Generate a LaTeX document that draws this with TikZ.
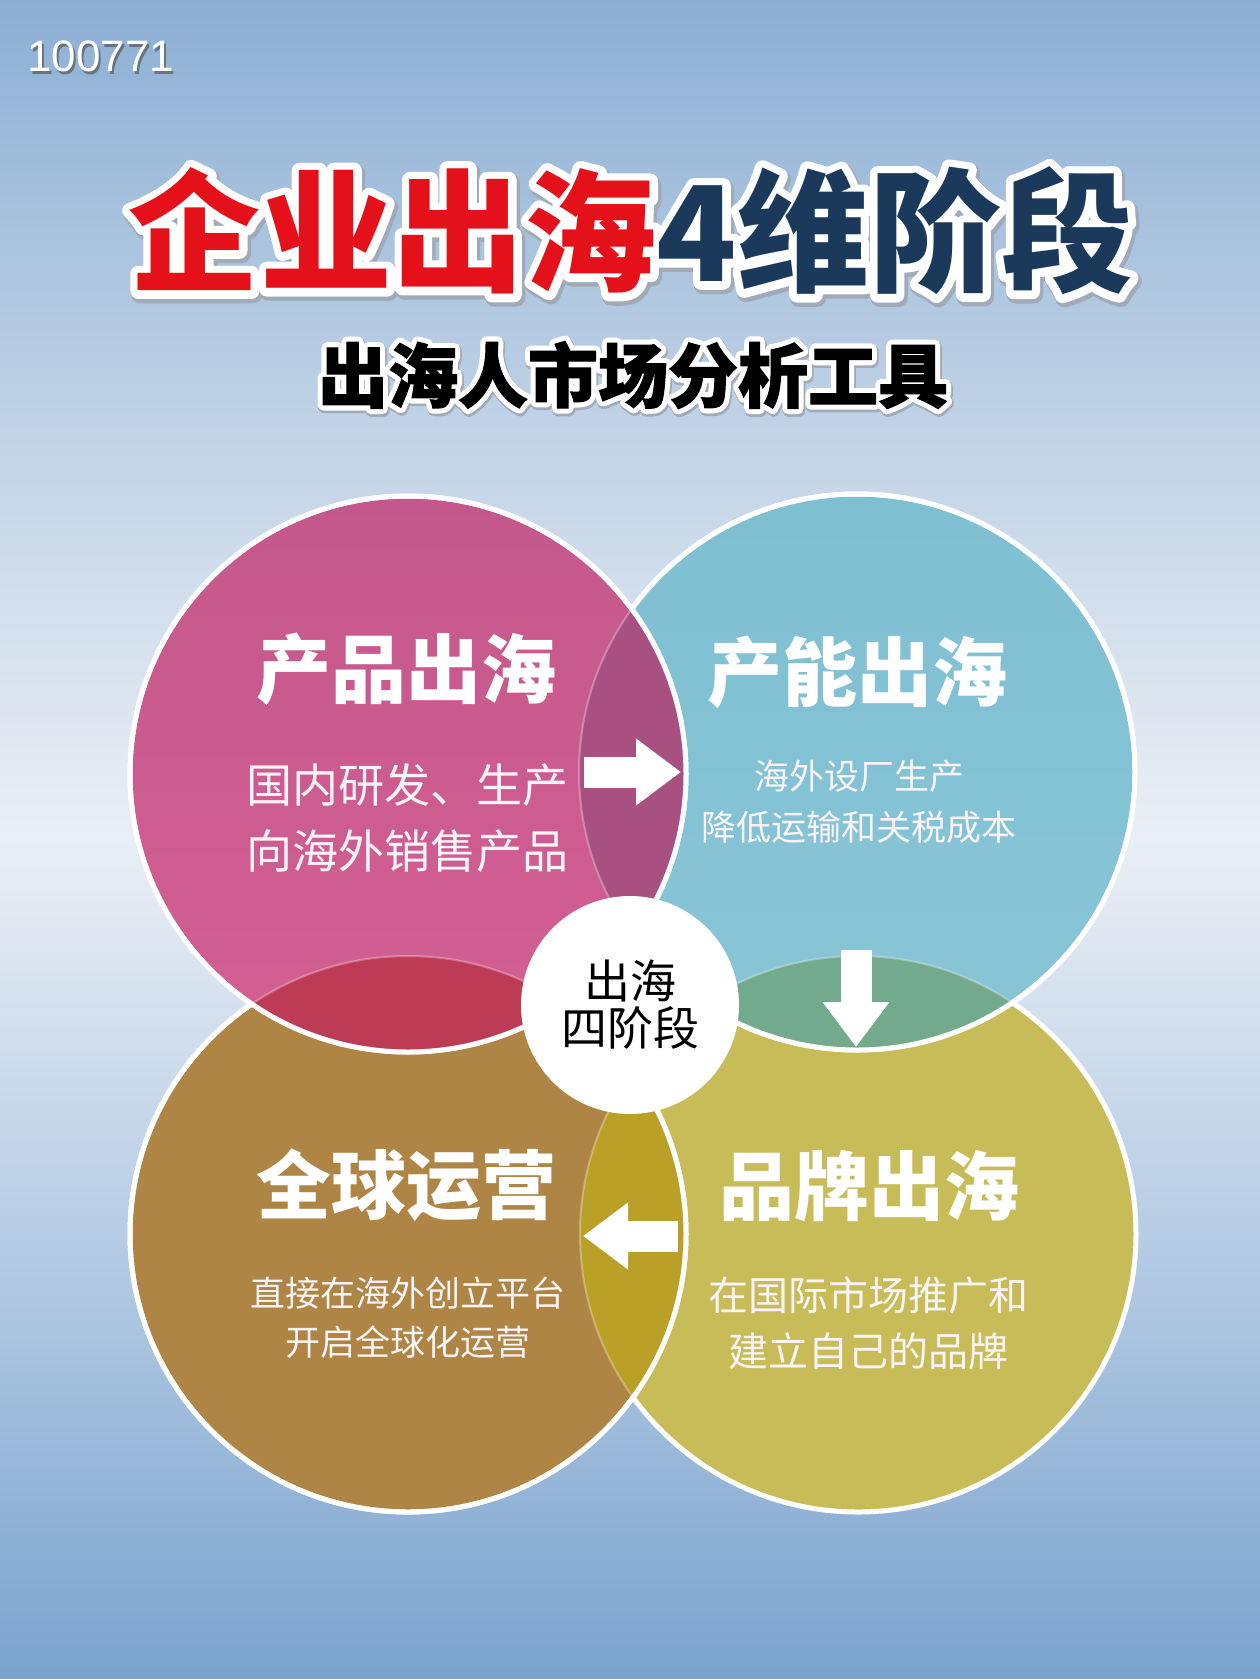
\documentclass[tikz,border=0pt]{standalone}
\usepackage{fontspec}
\usetikzlibrary{arrows.meta}
\newfontfamily\cjk{Noto Sans CJK SC}
\newfontfamily\cjkheavy{Noto Sans CJK SC}[BoldFeatures={FakeBold=1.5}]
\newfontfamily\cjktitlerim{Noto Sans CJK SC}[BoldFeatures={FakeBold=12}]
\newfontfamily\cjktitleshade{Noto Sans CJK SC}[BoldFeatures={FakeBold=14}]
\newfontfamily\cjksubrim{Noto Sans CJK SC}[BoldFeatures={FakeBold=16}]
\newfontfamily\cjksubshade{Noto Sans CJK SC}[BoldFeatures={FakeBold=18}]
\newfontfamily\numfont{Liberation Sans}
\definecolor{bgtop}{RGB}{140,175,212}
\definecolor{bgupper}{RGB}{192,210,230}
\definecolor{bgwhite}{RGB}{234,239,245}
\definecolor{bglower}{RGB}{180,202,228}
\definecolor{bgbottom}{RGB}{122,163,205}
\definecolor{pinkc}{RGB}{212,95,147}
\definecolor{pinktop}{RGB}{196,88,140}
\definecolor{purplec}{RGB}{168,80,128}
\definecolor{bluec}{RGB}{127,191,210}
\definecolor{bluebot}{RGB}{136,197,215}
\definecolor{greenc}{RGB}{115,170,142}
\definecolor{yellowc}{RGB}{199,188,88}
\definecolor{goldc}{RGB}{187,160,40}
\definecolor{brownc}{RGB}{175,133,69}
\definecolor{redc}{RGB}{190,59,85}
\definecolor{titlered}{RGB}{228,16,26}
\definecolor{titlenavy}{RGB}{27,58,91}
\definecolor{shadowc}{RGB}{160,170,185}
\definecolor{bodytext}{RGB}{250,244,246}
\pgfdeclareverticalshading{bgshade}{100bp}{color(0bp)=(bgbottom); color(25bp)=(bgbottom); color(37.5bp)=(bglower); color(50bp)=(bgwhite); color(62.5bp)=(bgupper); color(75bp)=(bgtop); color(100bp)=(bgtop)}
\newcommand\titletxt[2]{{\color{#1}企业出海}{\color{#2}4维阶段}}
\begin{document}
\begin{tikzpicture}[x=1pt,y=-1pt,
  stage/.style={circle, minimum size=556pt, inner sep=0pt, draw=white, line width=5pt},
  rim/.style={draw=white, line width=5pt},
  faint/.style={draw=white, draw opacity=0.3, line width=2pt},
  head/.style={font=\cjk\bfseries\fontsize{75}{80}\selectfont, text=white, inner sep=0pt},
  body/.style={align=center, text=bodytext, inner sep=0pt},
  blockarrow/.style={draw=white, line width=31pt, -{Triangle[width=64pt,length=45pt]}},
  titlefont/.style={font=\cjk\bfseries\fontsize{132}{140}\selectfont, inner sep=0pt},
  titlerimfont/.style={font=\cjktitlerim\bfseries\fontsize{132}{140}\selectfont, inner sep=0pt, line join=round},
  titleshadefont/.style={font=\cjktitleshade\bfseries\fontsize{132}{140}\selectfont, inner sep=0pt, line join=round},
  subfont/.style={font=\cjkheavy\bfseries\fontsize{70}{76}\selectfont, inner sep=0pt},
  subrimfont/.style={font=\cjksubrim\bfseries\fontsize{70}{76}\selectfont, inner sep=0pt, line join=round},
  subshadefont/.style={font=\cjksubshade\bfseries\fontsize{70}{76}\selectfont, inner sep=0pt, line join=round}
]
\useasboundingbox (0,0) rectangle (1260,1679);
\shade[shading=bgshade] (0,0) rectangle (1260,1679);

% id label
\node[font=\numfont\fontsize{44}{48}\selectfont, text=black!65, opacity=0.7, anchor=west, inner sep=0pt] (idsh) at (29,59) {100771};
\node[font=\numfont\fontsize{44}{48}\selectfont, text=white, anchor=west, inner sep=0pt] (id) at (27,56) {100771};

% title: shadow, white rim, letters
\node[titleshadefont, xshift=2pt, yshift=-3pt] (tshade) at (631,231) {\titletxt{shadowc}{shadowc}};
\node[titlerimfont] (trim) at (631,231) {\titletxt{white}{white}};
\node[titlefont] (title) at (631,231) {\titletxt{titlered}{titlenavy}};

% subtitle
\node[subshadefont, xshift=1pt, yshift=-2pt] (sshade) at (633,375) {\color{shadowc}出海人市场分析工具};
\node[subrimfont] (srim) at (633,375) {\color{white}出海人市场分析工具};
\node[subfont] (subtitle) at (633,375) {\color{black}出海人市场分析工具};

% circles
\node[stage, fill=yellowc] (yellow) at (858,1234) {};
\node[stage, top color=bluec, bottom color=bluebot] (blue) at (857,772) {};
\begin{scope}
  \clip (blue.center) circle[radius=278pt];
  \fill[greenc] (yellow.center) circle[radius=278pt];
  \draw[faint] (yellow.center) circle[radius=278pt];
\end{scope}
\draw[rim] (blue.center) circle[radius=278pt];

\node[stage, fill=brownc] (brown) at (408,1234) {};
\begin{scope}
  \clip (brown.center) circle[radius=278pt];
  \fill[goldc] (yellow.center) circle[radius=278pt];
  \draw[faint] (yellow.center) circle[radius=278pt];
\end{scope}
\draw[rim] (brown.center) circle[radius=278pt];

\node[stage, top color=pinktop, bottom color=pinkc] (pink) at (408,774) {};
\begin{scope}
  \clip (pink.center) circle[radius=278pt];
  \fill[purplec] (blue.center) circle[radius=278pt];
  \fill[redc] (brown.center) circle[radius=278pt];
  \draw[faint] (blue.center) circle[radius=278pt];
  \draw[faint] (brown.center) circle[radius=278pt];
\end{scope}
\draw[rim] (pink.center) circle[radius=278pt];

% texts
\node[head] (h1) at (406,669) {产品出海};
\node[body, font=\cjk\fontsize{46}{66}\selectfont] (b1) at (407,818) {国内研发、生产\\向海外销售产品};

\node[head] (h2) at (857,672) {产能出海};
\node[body, font=\cjk\fontsize{35}{51}\selectfont] (b2) at (859,802) {海外设厂生产\\降低运输和关税成本};

\node[head] (h3) at (406,1185) {全球运营};
\node[body, font=\cjk\fontsize{35}{49}\selectfont] (b3) at (408,1318) {直接在海外创立平台\\开启全球化运营};

\node[head] (h4) at (869,1186) {品牌出海};
\node[body, font=\cjk\fontsize{40}{56}\selectfont] (b4) at (868,1323) {在国际市场推广和\\建立自己的品牌};

% arrows
\coordinate (a1s) at (584,772);
\coordinate (a1e) at (681,772);
\draw[blockarrow] (a1s) -- (a1e);
\coordinate (a2s) at (856,950);
\coordinate (a2e) at (856,1047);
\draw[blockarrow] (a2s) -- (a2e);
\coordinate (a3s) at (678,1236);
\coordinate (a3e) at (583,1236);
\draw[blockarrow] (a3s) -- (a3e);

% hub
\node[circle, fill=white, minimum size=218pt, inner sep=0pt, align=center,
      font=\cjk\fontsize{46}{47}\selectfont, text=black] (hub) at (630,1005) {出海\\四阶段};
\end{tikzpicture}
\end{document}
